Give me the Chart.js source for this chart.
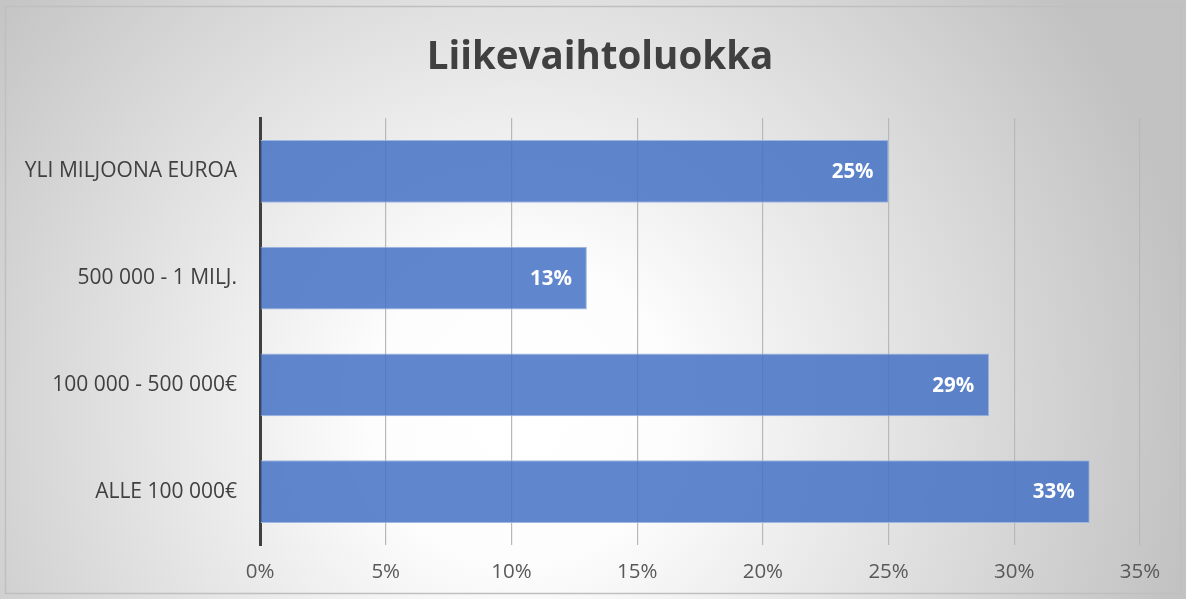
<!DOCTYPE html>
<html>
<head>
<meta charset="utf-8">
<script src="https://cdn.jsdelivr.net/npm/chart.js@4/dist/chart.umd.min.js"></script>
<style>
  html, body { margin: 0; padding: 0; background: #ffffff; }
  #wrap { width: 1186px; height: 599px; position: relative; }
</style>
</head>
<body>
<div id="wrap"><canvas id="c" width="1186" height="599"></canvas></div>
<script>
const categories = ['YLI MILJOONA EUROA', '500 000 - 1 MILJ.', '100 000 - 500 000€', 'ALLE 100 000€'];
const values = [25, 13, 29, 33];
const titleText = 'Liikevaihtoluokka';
const xMin = 0, xMax = 35, xStep = 5;

const FONT = "'Open Sans', 'Lato', sans-serif";

const bgPlugin = {
  id: 'bg',
  beforeDraw(chart) {
    const ctx = chart.ctx;
    const w = chart.width, h = chart.height;
    ctx.save();
    const g = ctx.createRadialGradient(520, 410, 0, 520, 410, 680);
    g.addColorStop(0, '#ffffff');
    g.addColorStop(0.22, '#fdfdfd');
    g.addColorStop(1, '#c2c2c2');
    ctx.fillStyle = g;
    ctx.fillRect(0, 0, w, h);
    ctx.strokeStyle = '#bfbfbf';
    ctx.lineWidth = 1.5;
    ctx.strokeRect(5.5, 6.5, w - 11, h - 12);
    ctx.restore();
  }
};

const titlePlugin = {
  id: 'titleText',
  afterDraw(chart) {
    const ctx = chart.ctx;
    ctx.save();
    ctx.fillStyle = '#404040';
    ctx.font = "bold 38.5px " + FONT;
    ctx.textAlign = 'center';
    ctx.textBaseline = 'middle';
    ctx.fillText(titleText, 600, 58);
    ctx.restore();
  }
};

const labelPlugin = {
  id: 'barLabels',
  afterDatasetsDraw(chart) {
    const ctx = chart.ctx;
    const meta = chart.getDatasetMeta(0);
    ctx.save();
    ctx.fillStyle = '#ffffff';
    ctx.font = "bold 20.5px " + FONT;
    ctx.textAlign = 'right';
    ctx.textBaseline = 'middle';
    meta.data.forEach((bar, i) => {
      ctx.fillText(values[i] + '%', bar.x - 15, bar.y + 1);
    });
    ctx.restore();
  }
};

new Chart(document.getElementById('c'), {
  type: 'bar',
  data: {
    labels: categories,
    datasets: [{
      data: values,
      backgroundColor: 'rgba(68,114,196,0.85)',
      borderColor: '#9fb6e0',
      borderWidth: 1,
      borderSkipped: 'start',
      categoryPercentage: 0.59,
      barPercentage: 1.0
    }]
  },
  options: {
    indexAxis: 'y',
    responsive: false,
    animation: false,
    layout: { padding: { left: 0, right: 46, top: 118, bottom: 0 } },
    plugins: {
      legend: { display: false },
      tooltip: { enabled: false },
      title: { display: false }
    },
    scales: {
      x: {
        min: xMin,
        max: xMax,
        ticks: {
          stepSize: xStep,
          callback: v => v + '%',
          color: '#595959',
          font: { family: FONT, size: 20.5 },
          padding: 15
        },
        grid: { color: '#b8b8b8', lineWidth: 1.2, drawTicks: false },
        border: { display: false },
        afterFit(s) { s.height = 54; }
      },
      y: {
        ticks: {
          color: '#404040',
          font: { family: FONT, size: 21 },
          padding: 15
        },
        grid: { display: false },
        border: { display: true, color: '#404040', width: 3 },
        afterFit(s) { s.width = 260; }
      }
    }
  },
  plugins: [bgPlugin, titlePlugin, labelPlugin]
});
</script>
</body>
</html>
